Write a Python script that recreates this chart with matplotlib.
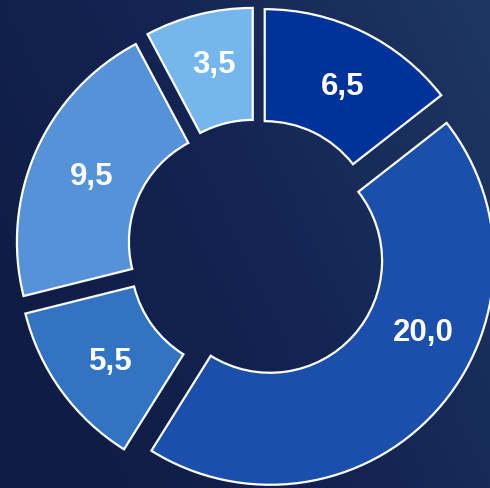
import numpy as np
import matplotlib
matplotlib.use("Agg")
import matplotlib.pyplot as plt
from matplotlib.colors import LinearSegmentedColormap

values = [6.5, 20.0, 5.5, 9.5, 3.5]
labels = ["6,5", "20,0", "5,5", "9,5", "3,5"]
colors = ["#00339a", "#1a4fab", "#3273c4", "#5592d8", "#75b6ec"]

W, H = 490, 488
fig = plt.figure(figsize=(W / 100, H / 100), dpi=100)

# background gradient
bg = fig.add_axes([0, 0, 1, 1])
bg.set_axis_off()
xx, yy = np.meshgrid(np.linspace(0, 1, 200), np.linspace(0, 1, 200))
t = np.clip(0.75 * xx + 0.35 * yy - 0.1, 0, 1)
cmap = LinearSegmentedColormap.from_list("bg", ["#0f1c44", "#142554", "#1e3762"])
bg.imshow(t, cmap=cmap, origin="lower", extent=[0, 1, 0, 1], aspect="auto")
bg.set_xlim(0, 1)
bg.set_ylim(0, 1)

ax = fig.add_axes([0, 0, 1, 1])
ax.set_axis_off()
ax.patch.set_alpha(0)

cx, cy = 257, H - 249
R = 224
explode_px = 17.6

wedges, texts = ax.pie(
    values,
    labels=labels,
    colors=colors,
    startangle=90,
    counterclock=False,
    radius=R,
    center=(cx, cy),
    explode=[explode_px] * len(values),
    labeldistance=0.75,
    wedgeprops=dict(width=R * 0.5, edgecolor="white", linewidth=1.6),
    textprops=dict(color="white", fontsize=22.5, fontweight="bold",
                   family=["Liberation Sans", "DejaVu Sans"],
                   ha="center", va="center"),
)

# label placement tweaks (angle / distance within each slice)
label_angles = {1: -24.3}
for i, tx in enumerate(texts):
    tx.set_ha("center")
    tx.set_va("center_baseline")
    if i in label_angles:
        wx, wy = wedges[i].center
        a = np.deg2rad(label_angles[i])
        tx.set_position((wx + 0.75 * R * np.cos(a), wy + 0.75 * R * np.sin(a)))
nudges = {0: (4, -1), 2: (4, 0), 3: (4, 0), 4: (2, 7)}
for i, (dx, dy) in nudges.items():
    x0, y0 = texts[i].get_position()
    texts[i].set_position((x0 + dx, y0 + dy))

ax.set_xlim(0, W)
ax.set_ylim(0, H)
ax.set_aspect("equal")

fig.savefig("out.png", dpi=100)
